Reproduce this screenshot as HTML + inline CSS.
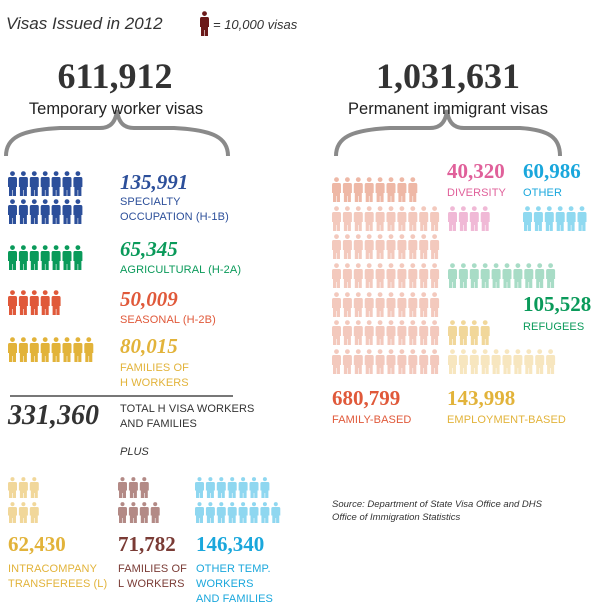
<!DOCTYPE html>
<html><head><meta charset="utf-8"><style>
body{margin:0;background:#fff;}
#c{position:relative;width:600px;height:602px;overflow:hidden;font-family:"Liberation Sans",sans-serif;}
.t{position:absolute;white-space:nowrap;}
.num{font-family:"Liberation Serif",serif;font-weight:bold;font-size:21px;}
.lab{font-size:11px;letter-spacing:0.1px;line-height:15px;}
</style></head><body>
<div id="c">
<svg id="s" width="600" height="602" style="position:absolute;left:0;top:0">
 <path d="M6,156 C6,138 20,130 60,128 L100,128 C112,128 116,120 117,110 C118,120 122,128 134,128 L174,128 C214,130 228,138 228,156" fill="none" stroke="#8a8a8a" stroke-width="4"/>
 <path d="M336,156 C336,138 350,130 390,128 L430,128 C442,128 446,120 447,110 C448,120 452,128 464,128 L520,128 C550,130 560,138 560,156" fill="none" stroke="#8a8a8a" stroke-width="4"/>
 <line x1="10" y1="396" x2="233" y2="396" stroke="#777" stroke-width="2"/>
</svg>
<div class="t" style="left:6px;top:14px;font-size:17px;font-style:italic;color:#333">Visas Issued in 2012</div>
<div class="t" style="left:213px;top:17px;font-size:13px;font-style:italic;color:#333">= 10,000 visas</div>
<div class="t" style="left:0;width:230px;text-align:center;top:55px;font-family:'Liberation Serif',serif;font-weight:bold;font-size:36px;color:#333">611,912</div>
<div class="t" style="left:0;width:232px;text-align:center;top:100px;font-size:16.5px;color:#222">Temporary worker visas</div>
<div class="t" style="left:333px;width:230px;text-align:center;top:55px;font-family:'Liberation Serif',serif;font-weight:bold;font-size:36px;color:#333">1,031,631</div>
<div class="t" style="left:333px;width:230px;text-align:center;top:100px;font-size:16.5px;color:#222">Permanent immigrant visas</div>

<div class="t num" style="left:120px;top:170px;color:#2c4f9a;font-style:italic">135,991</div>
<div class="t lab" style="left:120px;top:195px;color:#2c4f9a">SPECIALTY<br>OCCUPATION (H-1B)</div>
<div class="t num" style="left:120px;top:237px;color:#0a9a5a;font-style:italic">65,345</div>
<div class="t lab" style="left:120px;top:263px;color:#0a9a5a">AGRICULTURAL (H-2A)</div>
<div class="t num" style="left:120px;top:287px;color:#e0593a;font-style:italic">50,009</div>
<div class="t lab" style="left:120px;top:313px;color:#e0593a">SEASONAL (H-2B)</div>
<div class="t num" style="left:120px;top:334px;color:#e2b33a;font-style:italic">80,015</div>
<div class="t lab" style="left:120px;top:361px;color:#e2b33a">FAMILIES OF<br>H WORKERS</div>
<div class="t" style="left:8px;top:400px;font-family:'Liberation Serif',serif;font-weight:bold;font-style:italic;font-size:28px;color:#333">331,360</div>
<div class="t lab" style="left:120px;top:402px;color:#333">TOTAL H VISA WORKERS<br>AND FAMILIES</div>
<div class="t" style="left:120px;top:446px;font-size:11px;font-style:italic;color:#333">PLUS</div>

<div class="t num" style="left:8px;top:532px;color:#e2b33a">62,430</div>
<div class="t lab" style="left:8px;top:562px;color:#e2b33a">INTRACOMPANY<br>TRANSFEREES (L)</div>
<div class="t num" style="left:118px;top:532px;color:#7a3b35">71,782</div>
<div class="t lab" style="left:118px;top:562px;color:#7a3b35">FAMILIES OF<br>L WORKERS</div>
<div class="t num" style="left:196px;top:532px;color:#1aa7dc">146,340</div>
<div class="t lab" style="left:196px;top:562px;color:#1aa7dc">OTHER TEMP.<br>WORKERS<br>AND FAMILIES</div>

<div class="t num" style="left:447px;top:159px;color:#e0609a">40,320</div>
<div class="t lab" style="left:447px;top:186px;color:#e0609a">DIVERSITY</div>
<div class="t num" style="left:523px;top:159px;color:#1aa7dc">60,986</div>
<div class="t lab" style="left:523px;top:186px;color:#1aa7dc">OTHER</div>
<div class="t num" style="left:523px;top:292px;color:#0a9a5a">105,528</div>
<div class="t lab" style="left:523px;top:320px;color:#0a9a5a">REFUGEES</div>
<div class="t num" style="left:332px;top:386px;color:#e0593a">680,799</div>
<div class="t lab" style="left:332px;top:413px;color:#e0593a">FAMILY-BASED</div>
<div class="t num" style="left:447px;top:386px;color:#e2b33a">143,998</div>
<div class="t lab" style="left:447px;top:413px;color:#e2b33a">EMPLOYMENT-BASED</div>
<div class="t" style="left:332px;top:498px;font-size:9.5px;font-style:italic;line-height:13px;color:#333">Source: Department of State Visa Office and DHS<br>Office of Immigration Statistics</div>
</div>
<script>
// rows of icons
const groupNames=['legend','h1b','h1b','h2a','h2b','h-families','l','l','l-families','l-families','other-temp','other-temp','family-based','family-based','family-based','family-based','family-based','family-based','family-based','diversity','other','refugees','employment','employment'];
const rowCounts=[1,7,7,7,5,8,3,3,3,4,7,8,8,10,10,10,10,10,10,4,6,10,4,10];
const rowX=[200,8,8,8,8,8,8,8,118,118,195,195,332,332,332,332,332,332,332,448,523,448,448,448];
const rowY=[11,171,199,245,290,337,477,502,477,502,477,502,177,206,234,263,292,320,349,206,206,263,320,349];
const rowColors=['#6b1a1a','#2c4f9a','#2c4f9a','#0a9a5a','#e0593a','#e2b33a','#f1d79a','#f1d79a','#b38a86','#b38a86','#8fd7f0','#8fd7f0','#eeb8a6','#f3c9bd','#f3c9bd','#f3c9bd','#f3c9bd','#f3c9bd','#f3c9bd','#f0b9d6','#8fd9f0','#a8dcc6','#f1d79a','#f7e6bf'];
const s=document.getElementById('s');
const NS='http://www.w3.org/2000/svg';
const pitch=10.9;
function icon(x,y,col,name,h){
  const k=h/25;
  const p=document.createElementNS(NS,'path');
  p.setAttribute('d',`M${x+1.5},${y+6*k} Q${x},${y+6*k} ${x},${y+8*k} L${x},${y+16*k} L${x+1},${y+16*k} L${x+1},${y+25*k} L${x+4.2},${y+25*k} L${x+4.2},${y+19*k} L${x+4.8},${y+19*k} L${x+4.8},${y+25*k} L${x+8},${y+25*k} L${x+8},${y+16*k} L${x+9},${y+16*k} L${x+9},${y+8*k} Q${x+9},${y+6*k} ${x+7.5},${y+6*k} Z`);
  p.setAttribute('fill',col);
  
  
  s.appendChild(p);
  const c=document.createElementNS(NS,'circle');
  c.setAttribute('cx',x+4.5);c.setAttribute('cy',y+2.6*k);c.setAttribute('r',2.4*k);
  c.setAttribute('fill',col);
  
  
  s.appendChild(c);
}
for(let r=0;r<rowCounts.length;r++){
  const h=(groupNames[r]==='l'||groupNames[r]==='l-families'||groupNames[r]==='other-temp')?21:25;
  for(let i=0;i<rowCounts[r];i++){
    icon(rowX[r]+i*pitch,rowY[r],rowColors[r],groupNames[r],h);
  }
}
</script>
</body></html>
